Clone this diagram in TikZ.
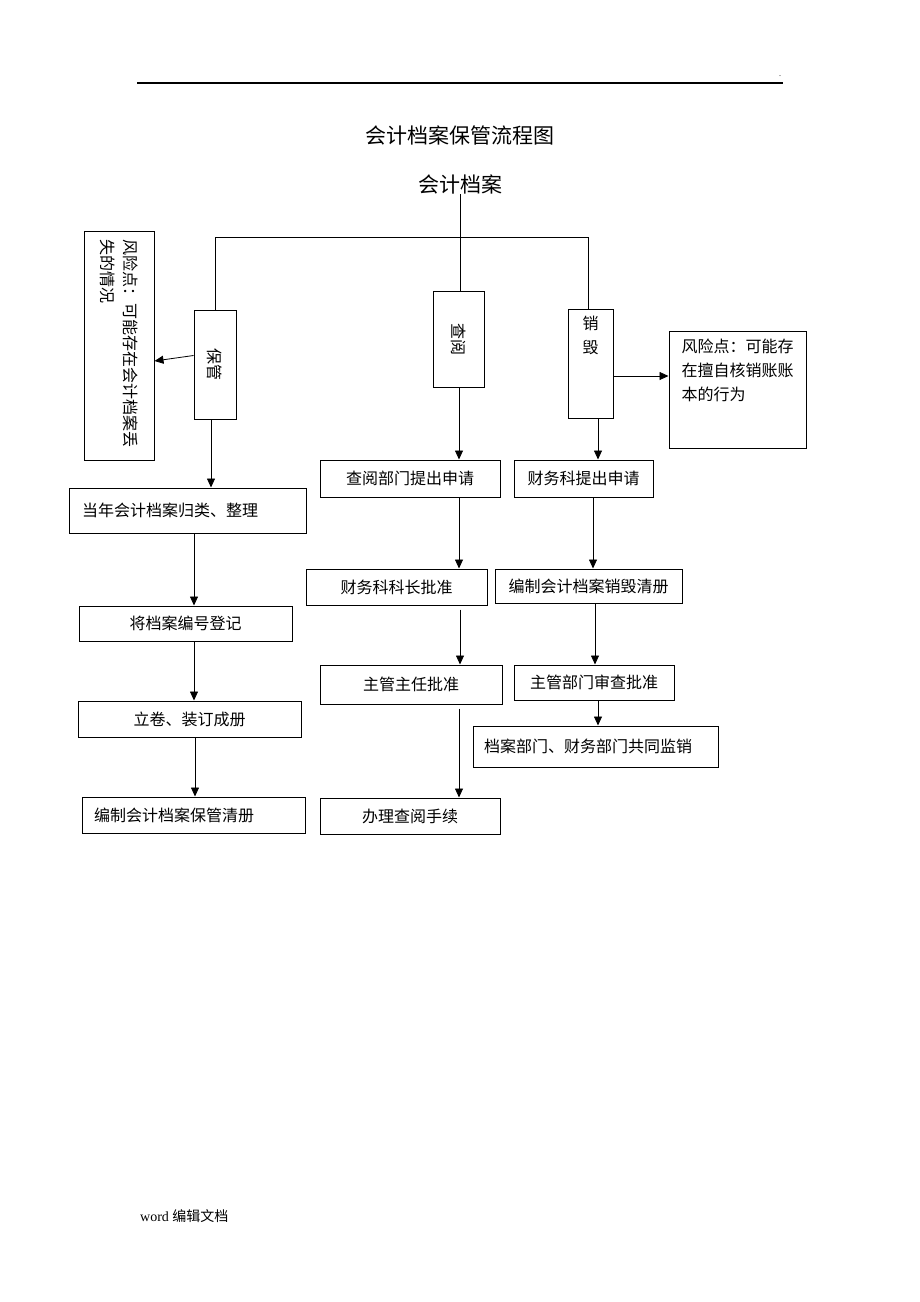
\documentclass[tikz,border=0pt]{standalone}
\usepackage{fontspec}
\setmainfont{Liberation Serif}
\newfontfamily\cjk{Noto Sans CJK SC}
\usepackage{tikz}
\usetikzlibrary{arrows.meta,calc}

\begin{document}
\begin{tikzpicture}[x=1pt,y=-1pt,
  main_node/.style={draw,line width=1pt,inner sep=0pt,font=\cjk\fontsize{16}{24}\selectfont},
  side_node/.style={main_node,rotate=-90},
  title_node/.style={inner sep=0pt,font=\cjk\fontsize{21}{25}\selectfont},
  plain_line/.style={line width=0.8pt},
  flow/.style={line width=0.8pt,-{Triangle[length=9pt,width=8pt]}}]

    \useasboundingbox (0,0) rectangle (920,1302);
    \draw[line width=1.4pt] (137,83) -- (783,83);
    \node[inner sep=0pt,font=\fontsize{8}{8}\selectfont] (p) at (780,76) {.};

	\node[title_node] (0)   at (460,135) {会计档案保管流程图};
	\node[title_node] (1)   at (460,184) {会计档案};
	\node[side_node, minimum width=109, minimum height=42] (2)   at (215,364.5) {保管};
	\node[side_node, minimum width=229, minimum height=70, text width=213, align=left, font=\cjk\fontsize{16}{23}\selectfont] (3)   at (119,345.5) {风险点：可能存在会计档案丢\\失的情况};
	\node[side_node, minimum width=96, minimum height=51] (4)   at (459,339) {查阅};
	\node[main_node, minimum width=45, minimum height=109] (5)   at (590.5,363.5) {\parbox[c][95pt][t]{20pt}{\centering 销\\毁}};
	\node[main_node, minimum width=137, minimum height=117] (6)   at (737.5,389.5) {\parbox[c][101pt][t]{112pt}{风险点：可能存\\在擅自核销账账\\本的行为}};
    \node[main_node, minimum width=237, minimum height=45, text width=211, align=left] (7)   at (187.5,510.5) {当年会计档案归类、整理};
    \node[main_node, minimum width=213, minimum height=35] (8)   at (185.5,623.5) {将档案编号登记};
    \node[main_node, minimum width=223, minimum height=36] (9)   at (189.5,719) {立卷、装订成册};
    \node[main_node, minimum width=223, minimum height=36, text width=199, align=left] (10)   at (193.5,815) {编制会计档案保管清册};
    \node[main_node, minimum width=180, minimum height=37] (11)   at (410,478.5) {查阅部门提出申请};
    \node[main_node, minimum width=181, minimum height=36] (12)   at (396.5,587) {财务科科长批准};
    \node[main_node, minimum width=182, minimum height=39] (13)   at (411,684.5) {主管主任批准};
    \node[main_node, minimum width=180, minimum height=36] (14)   at (410,816) {办理查阅手续};
    \node[main_node, minimum width=139, minimum height=37] (15)   at (583.5,478.5) {财务科提出申请};
    \node[main_node, minimum width=187, minimum height=34] (16)   at (588.5,586) {编制会计档案销毁清册};
    \node[main_node, minimum width=160, minimum height=35] (17)   at (594,682.5) {主管部门审查批准};
    \node[main_node, minimum width=245, minimum height=41, text width=223, align=left] (18)   at (595.5,746.5) {档案部门、财务部门共同监销};
    \node[inner sep=0pt, anchor=west, font=\fontsize{14}{16}\selectfont] (19)   at (140,1216) {word {\cjk 编辑文档}};

    \coordinate (b2) at (588,237);
    \draw[plain_line] (1.south) -- (1.south |- 4.west);
    \draw[plain_line] (2.west) |- (b2) -- (b2 |- 5.north);

    \draw[flow] ($(2.east)+(-4,0)$) coordinate (a2) -- (a2 |- 7.north);
    \draw[flow] ($(2.south)+(0,-9)$) -- ($(3.north)+(0,15.5)$);
    \draw[flow] (4.east) -- (4.east |- 11.north);
    \draw[flow] ($(5.south)+(7.5,0)$) coordinate (a5) -- (a5 |- 15.north);
    \draw[flow] ($(5.east)+(0,12.5)$) coordinate (a6) -- (a6 -| 6.west);
    \draw[flow] ($(7.south)+(6.5,0)$) coordinate (a7) -- (a7 |- 8.north);
    \draw[flow] ($(8.south)+(8.5,0)$) coordinate (a8) -- (a8 |- 9.north);
    \draw[flow] ($(9.south)+(5.5,0)$) coordinate (a9) -- (a9 |- 10.north);
    \draw[flow] ($(11.south)+(49,0)$) coordinate (a11) -- (a11 |- 12.north);
    \draw[flow] ($(12.south)+(63.5,4)$) coordinate (a12) -- (a12 |- 13.north);
    \draw[flow] ($(13.south)+(48,4)$) coordinate (a13) -- (a13 |- 14.north);
    \draw[flow] ($(15.south)+(9.5,0)$) coordinate (a15) -- (a15 |- 16.north);
    \draw[flow] ($(16.south)+(6.5,0)$) coordinate (a16) -- (a16 |- 17.north);
    \draw[flow] ($(17.south)+(4,0)$) coordinate (a17) -- (a17 |- 18.north);

\end{tikzpicture}
\end{document}
